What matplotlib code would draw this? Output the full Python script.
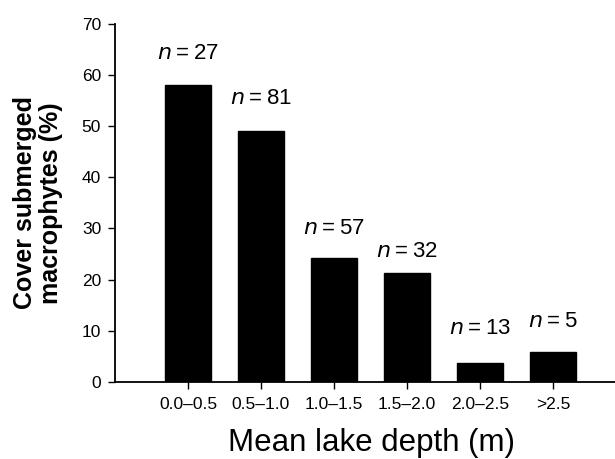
import matplotlib
matplotlib.use("Agg")
import matplotlib.pyplot as plt

# Cover of submerged macrophytes per depth class
depth_classes = ["0.0\u20130.5", "0.5\u20131.0", "1.0\u20131.5", "1.5\u20132.0", "2.0\u20132.5", ">2.5"]
cover_pct = [58.1, 49.1, 24.2, 21.3, 3.7, 5.9]
n_lakes = [27, 81, 57, 32, 13, 5]
label_gap = [15, 16, 14, 8, 17, 14]  # points above each bar

plt.rcParams['font.family'] = ['Liberation Sans', 'DejaVu Sans']

fig = plt.figure(figsize=(6.15, 4.59), dpi=100)
ax = fig.add_axes([0.187, 0.168, 0.813, 0.780])

x = range(len(depth_classes))
bars = ax.bar(x, cover_pct, width=0.63, color='black', edgecolor='black')

# sample size above each bar, italic n
for xi, val, n, gap in zip(x, cover_pct, n_lakes, label_gap):
    ax.annotate(f"$\\it{{n}}$\u2009=\u2009{n}", (xi, val), xytext=(0, gap),
                textcoords='offset points', ha='center', va='bottom',
                fontsize=16)

ax.set_xlim(-1, 5.85)
ax.set_ylim(0, 70)
ax.set_yticks(range(0, 71, 10))
ax.set_xticks(list(x))
ax.set_xticklabels(depth_classes, fontsize=12.5)
ax.tick_params(axis='y', labelsize=12.5, length=5, width=1, pad=5)
ax.tick_params(axis='x', length=5, width=1, pad=6)

for side in ['top', 'right']:
    ax.spines[side].set_visible(False)
for side in ['left', 'bottom']:
    ax.spines[side].set_linewidth(1.3)

ax.set_ylabel("Cover submerged\nmacrophytes (%)", fontsize=18, fontweight='bold',
              linespacing=1.1)
ax.yaxis.set_label_coords(-0.104, 0.5)
ax.set_xlabel("Mean lake depth (m)", fontsize=22.5, labelpad=10)
ax.xaxis.set_label_coords(0.512, -0.128)

fig.savefig("out.png", dpi=100)
